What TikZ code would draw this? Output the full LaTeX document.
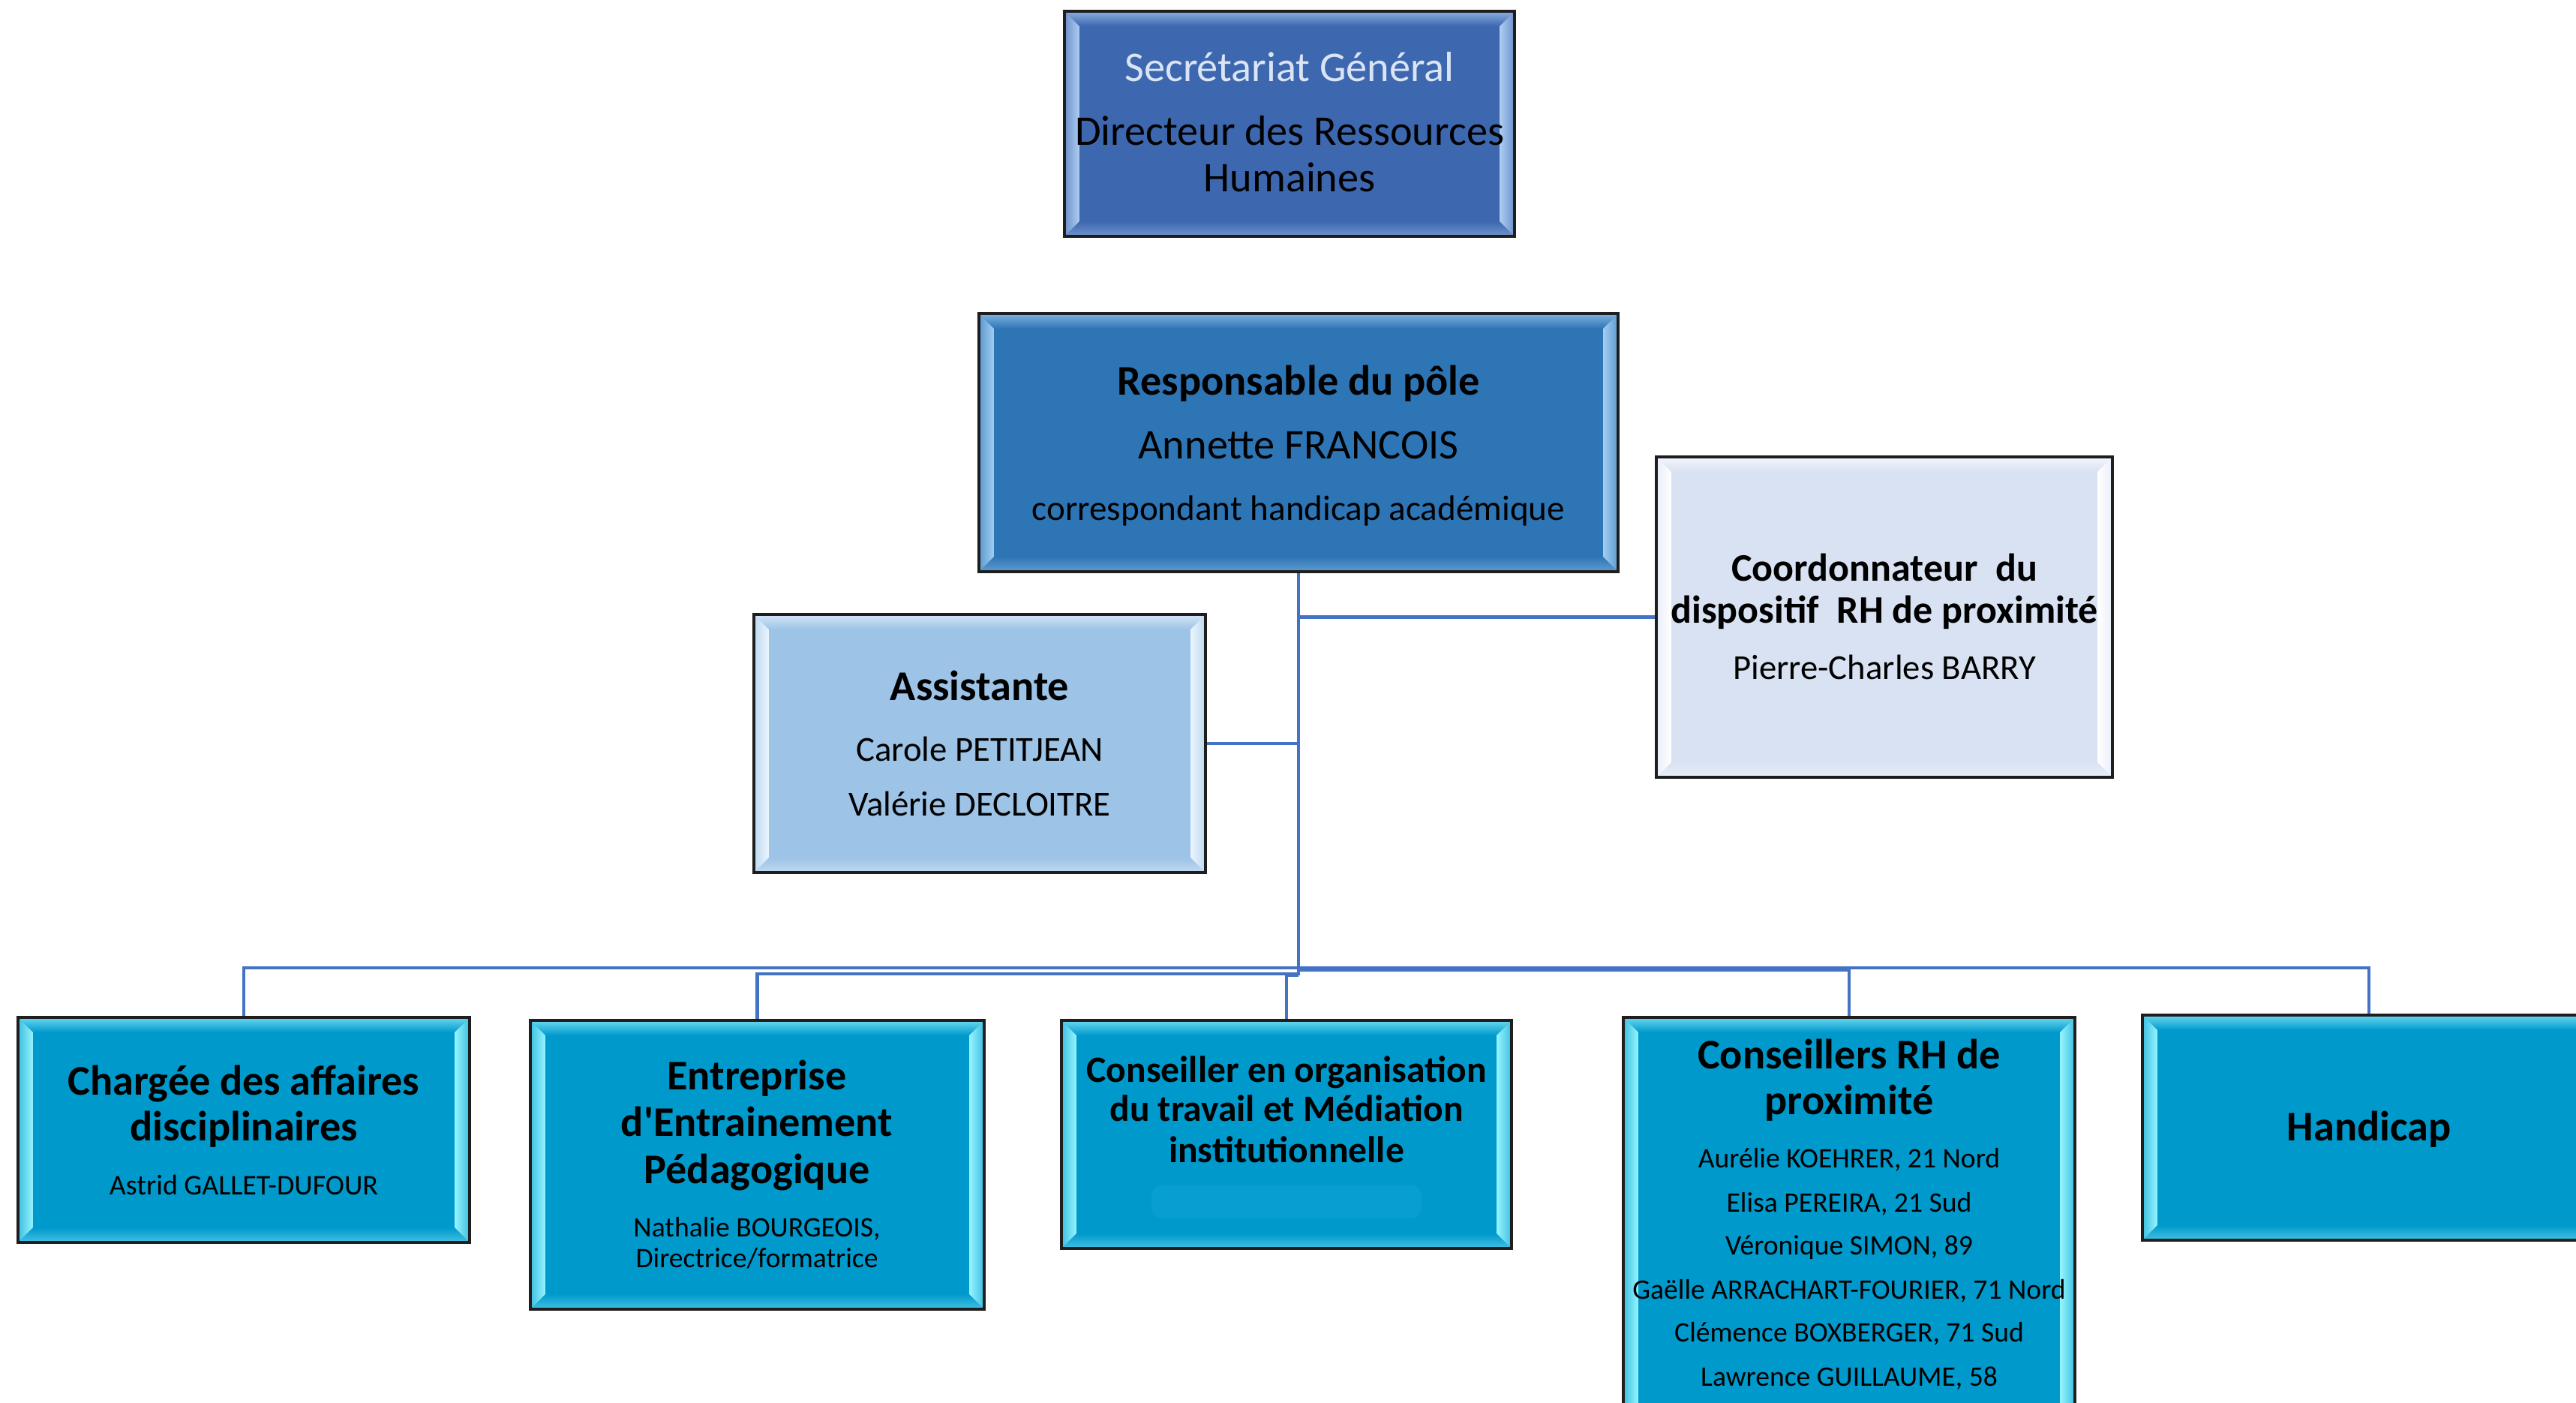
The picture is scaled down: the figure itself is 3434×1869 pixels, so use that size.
\documentclass[tikz,border=0pt]{standalone}
\usepackage{fontspec}
\setmainfont{Carlito}
\usetikzlibrary{calc}
\definecolor{topblue}{RGB}{61,104,176}
\definecolor{toplight}{RGB}{175,205,242}
\definecolor{respblue}{RGB}{46,117,182}
\definecolor{resplight}{RGB}{160,205,242}
\definecolor{coordfill}{RGB}{217,226,243}
\definecolor{coordlight}{RGB}{255,255,255}
\definecolor{assistfill}{RGB}{157,195,230}
\definecolor{assistlight}{RGB}{235,245,255}
\definecolor{cyanfill}{RGB}{0,153,204}
\definecolor{cyanlight}{RGB}{150,245,255}
\definecolor{orgglow}{RGB}{8,158,210}
\definecolor{boxedge}{RGB}{30,30,30}
\definecolor{linkblue}{RGB}{68,114,196}
\definecolor{secr}{RGB}{218,228,244}
\newcommand{\fs}[1]{\fontsize{#1}{#1}\selectfont}
\def\bv{0.2cm}
\tikzset{
  box/.style={draw=boxedge, line width=1.2pt, inner sep=0pt, rectangle},
  bevel/.style 2 args={fill=#1, path picture={
    \path (path picture bounding box.north west) coordinate (pnw)
          (path picture bounding box.north east) coordinate (pne)
          (path picture bounding box.south west) coordinate (psw)
          (path picture bounding box.south east) coordinate (pse);
    \shade[top color=#2!70!#1, bottom color=#1] (pnw) -- (pne) -- ([shift={(-\bv,-\bv)}]pne) -- ([shift={(\bv,-\bv)}]pnw) -- cycle;
    \shade[top color=#1, bottom color=#2!45!#1] (psw) -- (pse) -- ([shift={(-\bv,\bv)}]pse) -- ([shift={(\bv,\bv)}]psw) -- cycle;
    \shade[left color=#2!40!#1, right color=#2] (pnw) -- ([shift={(\bv,-\bv)}]pnw) -- ([shift={(\bv,\bv)}]psw) -- (psw) -- cycle;
    \shade[left color=#2, right color=#2!40!#1] (pne) -- ([shift={(-\bv,-\bv)}]pne) -- ([shift={(-\bv,\bv)}]pse) -- (pse) -- cycle;
  }},
  tx/.style={inner sep=0pt, text height=0.68em, text depth=0.2em, align=center, text=black, yshift=-0.1cm},
  link/.style={draw=linkblue, line width=1.3pt},
}
\begin{document}
\begin{tikzpicture}[x=0.01cm, y=-0.01cm]
\useasboundingbox (0,0) rectangle (3434,1869);
\clip (0,0) rectangle (3434,1869);

% connectors
\coordinate (jA) at (1731,1290);
\coordinate (jB) at (1731,1298);
\coordinate (jC) at (1731,1300);
\coordinate (jD) at (1731,1293);
\coordinate (jE) at (1731,1290);

% boxes
\node[box, bevel={topblue}{toplight}, minimum width=6.00cm, minimum height=3.00cm] (sg) at (1719,165) {};
\node[box, bevel={respblue}{resplight}, minimum width=8.52cm, minimum height=3.44cm] (resp) at (1731,590) {};
\node[box, bevel={coordfill}{coordlight}, minimum width=6.08cm, minimum height=4.27cm] (coord) at (2512,822.5) {};
\node[box, bevel={assistfill}{assistlight}, minimum width=6.02cm, minimum height=3.44cm] (assist) at (1306,991) {};
\node[box, bevel={cyanfill}{cyanlight}, minimum width=6.02cm, minimum height=3.00cm] (charg) at (325,1506) {};
\node[box, bevel={cyanfill}{cyanlight}, minimum width=6.05cm, minimum height=3.85cm] (entr) at (1009.5,1552.5) {};
\node[box, bevel={cyanfill}{cyanlight}, minimum width=6.00cm, minimum height=3.04cm] (org) at (1715,1512) {};
\node[box, bevel={cyanfill}{cyanlight}, minimum width=6.02cm, minimum height=6.44cm] (rh) at (2465,1678) {};
\node[box, bevel={cyanfill}{cyanlight}, minimum width=6.04cm, minimum height=3.00cm] (hand) at (3158,1503) {};

\draw[link] (resp.south) -- (jC);
\draw[link] (resp.south |- coord.west) -- (coord.west);
\draw[link] (assist.east) -- (resp.south |- assist.east);
\draw[link] (jA) -| (charg.north);
\draw[link] (jB) -| (entr.north);
\draw[link] (jC) -| (org.north);
\draw[link] (jD) -| (rh.north);
\draw[link] (jE) -| (hand.north);

% faint glow in org box
\fill[orgglow, rounded corners=0.15cm] (1535,1580) rectangle (1895,1624);

% texts
\node[tx, text=secr, font=\fs{16}] (sg-1) at (1719,90) {Secrétariat Général};
\node[tx, font=\fs{16}] (sg-2) at (1719,175) {Directeur des Ressources};
\node[tx, font=\fs{16}] (sg-3) at (1719,237) {Humaines};

\node[tx, font=\bfseries\fs{16}] (resp-1) at (1731,508) {Responsable du pôle};
\node[tx, font=\fs{16}] (resp-2) at (1731,593) {Annette FRANCOIS};
\node[tx, font=\fs{13.4}] (resp-3) at (1731,675) {correspondant handicap académique};

\node[tx, font=\bfseries\fs{14.8}] (coord-1) at (2512,756) {Coordonnateur\ \ du};
\node[tx, font=\bfseries\fs{14.8}] (coord-2) at (2512,812) {dispositif\ \ RH de proximité};
\node[tx, font=\fs{13.3}] (coord-3) at (2512,887) {Pierre-Charles BARRY};

\node[tx, font=\bfseries\fs{16}] (assist-1) at (1306,915) {Assistante};
\node[tx, font=\fs{13.3}] (assist-2) at (1306,996) {Carole PETITJEAN};
\node[tx, font=\fs{13.3}] (assist-3) at (1306,1069) {Valérie DECLOITRE};

\node[tx, font=\bfseries\fs{16}] (charg-1) at (325,1441) {Chargée des affaires};
\node[tx, font=\bfseries\fs{16}] (charg-2) at (325,1502) {disciplinaires};
\node[tx, font=\fs{10.8}] (charg-3) at (325,1574) {Astrid GALLET-DUFOUR};

\node[tx, font=\bfseries\fs{16}] (entr-1) at (1009,1434) {Entreprise};
\node[tx, font=\bfseries\fs{16}] (entr-2) at (1009,1496) {d\textquotesingle Entrainement};
\node[tx, font=\bfseries\fs{16}] (entr-3) at (1009,1559) {Pédagogique};
\node[tx, font=\fs{10.7}] (entr-4) at (1009,1630) {Nathalie BOURGEOIS,};
\node[tx, font=\fs{10.7}] (entr-5) at (1009,1671) {Directrice/formatrice};

\node[tx, font=\bfseries\fs{14.1}] (org-1) at (1715,1424) {Conseiller en organisation};
\node[tx, font=\bfseries\fs{14.1}] (org-2) at (1715,1476) {du travail et Médiation};
\node[tx, font=\bfseries\fs{14.1}] (org-3) at (1715,1531) {institutionnelle};

\node[tx, font=\bfseries\fs{16}] (rh-1) at (2465,1406) {Conseillers RH de};
\node[tx, font=\bfseries\fs{16}] (rh-2) at (2465,1467) {proximité};
\node[tx, font=\fs{10.7}] (rh-3) at (2465,1538) {Aurélie KOEHRER, 21 Nord};
\node[tx, font=\fs{10.7}] (rh-4) at (2465,1597) {Elisa PEREIRA, 21 Sud};
\node[tx, font=\fs{10.7}] (rh-5) at (2465,1654) {Véronique SIMON, 89};
\node[tx, font=\fs{10.7}] (rh-6) at (2465,1713) {Gaëlle ARRACHART-FOURIER, 71 Nord};
\node[tx, font=\fs{10.7}] (rh-7) at (2465,1770) {Clémence BOXBERGER, 71 Sud};
\node[tx, font=\fs{10.7}] (rh-8) at (2465,1829) {Lawrence GUILLAUME, 58};

\node[tx, font=\bfseries\fs{16}] (hand-1) at (3158,1502) {Handicap};
\end{tikzpicture}
\end{document}
